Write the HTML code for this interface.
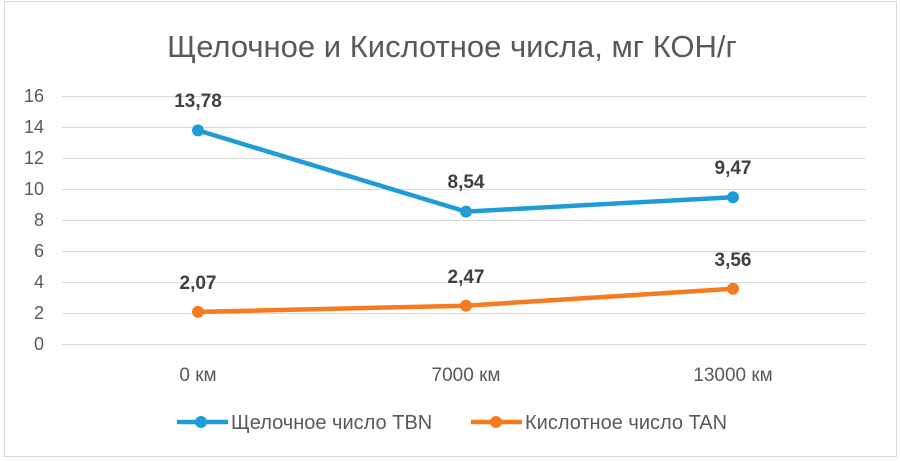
<!DOCTYPE html>
<html><head><meta charset="utf-8"><style>
html,body{margin:0;padding:0;background:#fff;}
svg{display:block;font-family:"Liberation Sans","DejaVu Sans",sans-serif;}
</style></head><body>
<svg width="900" height="462" viewBox="0 0 900 462" xmlns="http://www.w3.org/2000/svg">
<rect x="4.5" y="1.5" width="892" height="455" fill="#fff" stroke="#d9d9d9" stroke-width="1"/>
<text x="452" y="57" text-anchor="middle" font-size="31" fill="#595959">Щелочное и Кислотное числа, мг КОН/г</text>
<g stroke="#d9d9d9" stroke-width="1">
<line x1="62" x2="866" y1="96.5" y2="96.5"/><line x1="62" x2="866" y1="127.5" y2="127.5"/>
<line x1="62" x2="866" y1="158.5" y2="158.5"/><line x1="62" x2="866" y1="189.5" y2="189.5"/>
<line x1="62" x2="866" y1="220.5" y2="220.5"/><line x1="62" x2="866" y1="251.5" y2="251.5"/>
<line x1="62" x2="866" y1="282.5" y2="282.5"/><line x1="62" x2="866" y1="313.5" y2="313.5"/>
<line x1="62" x2="866" y1="344.5" y2="344.5"/>
</g>
<g font-size="18" fill="#595959" text-anchor="end">
<text x="44" y="102">16</text><text x="44" y="133">14</text><text x="44" y="164">12</text>
<text x="44" y="195">10</text><text x="44" y="226">8</text><text x="44" y="257">6</text>
<text x="44" y="288">4</text><text x="44" y="319">2</text><text x="44" y="350">0</text>
</g>
<g font-size="19" fill="#595959" text-anchor="middle">
<text x="198" y="381">0 км</text><text x="466" y="381">7000 км</text><text x="733" y="381">13000 км</text>
</g>
<polyline points="198,130.4 466,211.6 733,197.2" fill="none" stroke="#1f9bd7" stroke-width="4.5" stroke-linejoin="round"/>
<polyline points="198,311.9 466,305.7 733,288.8" fill="none" stroke="#f47b20" stroke-width="4.5" stroke-linejoin="round"/>
<g fill="#1f9bd7"><circle cx="198" cy="130.4" r="6"/><circle cx="466" cy="211.6" r="6"/><circle cx="733" cy="197.2" r="6"/></g>
<g fill="#f47b20"><circle cx="198" cy="311.9" r="6"/><circle cx="466" cy="305.7" r="6"/><circle cx="733" cy="288.8" r="6"/></g>
<g font-size="19" font-weight="bold" fill="#404040" text-anchor="middle">
<text x="198" y="107">13,78</text><text x="466" y="188">8,54</text><text x="733" y="174">9,47</text>
<text x="198" y="289">2,07</text><text x="466" y="283">2,47</text><text x="733" y="266">3,56</text>
</g>
<line x1="177" x2="228" y1="422" y2="422" stroke="#1f9bd7" stroke-width="4.5"/>
<circle cx="201" cy="422" r="6" fill="#1f9bd7"/>
<text x="231" y="429" font-size="20" fill="#595959">Щелочное число TBN</text>
<line x1="471" x2="522" y1="422" y2="422" stroke="#f47b20" stroke-width="4.5"/>
<circle cx="496" cy="422" r="6" fill="#f47b20"/>
<text x="525" y="429" font-size="20" fill="#595959">Кислотное число TAN</text>
</svg>
</body></html>
